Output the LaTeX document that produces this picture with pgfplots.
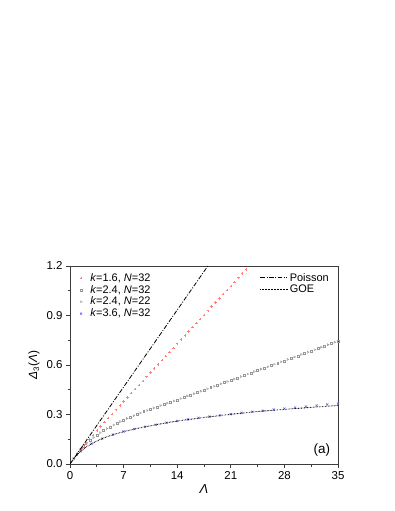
\documentclass[border=0pt]{standalone}
\usepackage{fontspec}
\setmainfont{Liberation Sans}
\usepackage{pgfplots}
\pgfplotsset{compat=1.18}

\definecolor{redm}{RGB}{255,125,125}
\definecolor{graym}{RGB}{150,150,150}
\definecolor{bluem}{RGB}{95,95,235}
\definecolor{axisc}{RGB}{60,60,60}

\pgfplotsset{
  frame/.style={
    at={(70bp,47bp)}, anchor=south west,
    scale only axis, width=268bp, height=198bp,
    xmin=0, xmax=35, ymin=0, ymax=1.2,
  },
}

\pgfplotstableread{
L D
0.5 0.033
1.0 0.065
1.5 0.094
2.0 0.122
2.5 0.149
3.0 0.176
3.5 0.202
4.0 0.228
4.5 0.253
5.0 0.279
5.5 0.304
6.0 0.329
6.5 0.354
7.0 0.379
7.5 0.404
8.0 0.429
8.5 0.454
9.0 0.479
9.5 0.504
10.0 0.529
10.5 0.554
11.0 0.579
11.5 0.604
12.0 0.629
12.5 0.654
13.0 0.679
13.5 0.704
14.0 0.729
14.5 0.754
15.0 0.779
15.5 0.804
16.0 0.829
16.5 0.854
17.0 0.879
17.5 0.904
18.0 0.929
18.5 0.954
19.0 0.979
19.5 1.004
20.0 1.029
20.5 1.054
21.0 1.079
21.5 1.104
22.0 1.129
22.5 1.154
23.0 1.179
23.5 1.204
}\kone

\pgfplotstableread{
L D
0.875 0.062
1.75 0.108
2.625 0.145
3.5 0.176
4.375 0.203
5.25 0.226
6.125 0.247
7.0 0.267
7.875 0.284
8.75 0.301
9.625 0.317
10.5 0.332
11.375 0.347
12.25 0.361
13.125 0.375
14.0 0.389
14.875 0.404
15.75 0.419
16.625 0.433
17.5 0.448
18.375 0.463
19.25 0.478
20.125 0.493
21.0 0.507
21.875 0.522
22.75 0.537
23.625 0.552
24.5 0.567
25.375 0.582
26.25 0.596
27.125 0.611
28.0 0.626
28.875 0.641
29.75 0.656
30.625 0.671
31.5 0.685
32.375 0.700
33.25 0.715
34.125 0.730
35.0 0.745
}\ktwo

\pgfplotstableread{
L D
0.4375 0.035
1.3125 0.087
2.1875 0.128
3.0625 0.161
3.9375 0.190
4.8125 0.215
5.6875 0.237
6.5625 0.257
7.4375 0.276
8.3125 0.293
9.1875 0.309
10.0625 0.325
10.9375 0.340
11.8125 0.354
12.6875 0.368
13.5625 0.382
14.4375 0.397
15.3125 0.412
16.1875 0.426
17.0625 0.441
17.9375 0.456
18.8125 0.471
19.6875 0.486
20.5625 0.500
21.4375 0.515
22.3125 0.530
23.1875 0.545
24.0625 0.560
24.9375 0.575
25.8125 0.589
26.6875 0.604
27.5625 0.619
28.4375 0.634
29.3125 0.649
30.1875 0.664
31.0625 0.678
31.9375 0.693
32.8125 0.708
33.6875 0.723
34.5625 0.738
}\kthree

\pgfplotstableread{
L D
1.4 0.077
2.8 0.123
4.2 0.154
5.6 0.178
7.0 0.197
8.4 0.212
9.8 0.226
11.2 0.238
12.6 0.250
14.0 0.261
15.4 0.270
16.8 0.279
18.2 0.287
19.6 0.295
21.0 0.302
22.4 0.310
23.8 0.317
25.2 0.323
26.6 0.330
28.0 0.336
29.4 0.342
30.8 0.348
32.2 0.354
33.6 0.361
35.0 0.366
}\kfour

\pgfplotstableread{
L D
0 0
0.25 0.016
0.5 0.032
0.75 0.046
1 0.059
1.5 0.081
2 0.099
2.5 0.114
3 0.127
3.5 0.139
4 0.150
5 0.168
6 0.183
7 0.196
8 0.207
9 0.218
10 0.227
12 0.245
14 0.260
16 0.273
18 0.285
20 0.296
22 0.306
24 0.316
26 0.324
28 0.331
30 0.338
32 0.345
35 0.354
}\goe

\begin{document}
\begin{tikzpicture}
\useasboundingbox (0,0) rectangle (395bp,511bp);
\begin{axis}[
  frame,
  xtick={0,7,...,35}, ytick={0,0.3,0.6,0.9,1.2},
  minor x tick num=1, minor y tick num=1,
  tick align=outside, xtick pos=bottom, ytick pos=left,
  major tick length=4bp, minor tick length=2.5bp,
  axis line style={axisc, line width=0.9pt},
  every tick/.style={axisc, line width=0.8pt},
  tick label style={font=\fontsize{11.5}{13}\selectfont},
  xticklabel style={/pgf/number format/assume math mode=true},
  yticklabel style={/pgf/number format/.cd, fixed, fixed zerofill, precision=1, assume math mode=true},
  xlabel={\fontsize{13}{14}\selectfont\textit{Λ}},
  ylabel={\fontsize{12}{13}\selectfont\textit{Δ}\textsubscript{3}(\textit{Λ})},
  xlabel style={yshift=2bp},
  legend style={at={(0.025,0.985)}, anchor=north west, draw=none, fill=none,
    font=\fontsize{11}{12}\selectfont, row sep=-1.5bp, column sep=6bp},
  legend cell align=left,
]
\addplot[only marks, mark=+, mark size=1.2pt, redm, line width=0.45pt] table {\kone};
\addlegendentry{\textit{k}=1.6, \textit{N}=32}
\addplot[only marks, mark=square, mark size=1.0pt, graym, line width=0.4pt] table {\ktwo};
\addlegendentry{\textit{k}=2.4, \textit{N}=32}
\addplot[only marks, mark=triangle, mark options={rotate=-90}, mark size=1.2pt, graym, line width=0.4pt] table {\kthree};
\addlegendentry{\textit{k}=2.4, \textit{N}=22}
\addplot[only marks, mark=x, mark size=1.5pt, bluem, line width=0.55pt] table {\kfour};
\addlegendentry{\textit{k}=3.6, \textit{N}=32}
\node[font=\fontsize{13.5}{14}\selectfont] at (axis cs:32.9,0.085) {(a)};
\end{axis}
\begin{axis}[
  frame, hide axis,
  legend style={at={(0.985,0.985)}, anchor=north east, draw=none, fill=none,
    font=\fontsize{11}{12}\selectfont, row sep=-1.5bp},
  legend cell align=left,
  legend image code/.code={\draw[#1] (0cm,0cm) -- (0.95cm,0cm);},
]
\addplot[black, line width=0.8pt, dash pattern=on 4.5pt off 1.6pt on 1pt off 1.6pt] coordinates {(0,0) (35,2.3333)};
\addlegendentry{Poisson}
\addplot[black, line width=0.9pt, dash pattern=on 0.6pt off 0.9pt] table {\goe};
\addlegendentry{GOE}
\end{axis}
\end{tikzpicture}
\end{document}
